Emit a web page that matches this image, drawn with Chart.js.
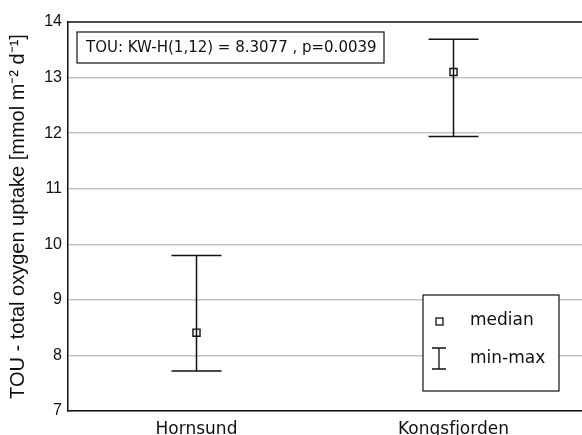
<!DOCTYPE html>
<html>
<head>
<meta charset="utf-8">
<script src="https://cdn.jsdelivr.net/npm/chart.js@4"></script>
<style>
  html, body { margin: 0; padding: 0; background: #fff; }
  #wrap { width: 582px; height: 435px; position: relative; }
</style>
</head>
<body>
<div id="wrap"><canvas id="c"></canvas></div>
<script>
const stations = ["Hornsund", "Kongsfjorden"];
const medians = [8.41, 13.1];
const mins = [7.72, 11.94];
const maxes = [9.8, 13.69];
const yTicks = [7, 8, 9, 10, 11, 12, 13, 14];
const statText = "TOU: KW-H(1,12) = 8.3077 , p=0.0039";

const FONT = "'DejaVu Sans', sans-serif";
const ARIAL = "'Liberation Sans', Arial, sans-serif";

// whiskers go under the median squares
const errorBars = {
  id: "errorBars",
  beforeDatasetsDraw(chart) {
    const { ctx, scales: { x, y } } = chart;
    ctx.save();
    ctx.strokeStyle = "#111";
    ctx.lineWidth = 1.5;
    stations.forEach((s, i) => {
      const px = x.getPixelForValue(i);
      const top = y.getPixelForValue(maxes[i]);
      const bot = y.getPixelForValue(mins[i]);
      ctx.beginPath();
      ctx.moveTo(px, top); ctx.lineTo(px, bot);
      ctx.moveTo(px - 25, top); ctx.lineTo(px + 25, top);
      ctx.moveTo(px - 25, bot); ctx.lineTo(px + 25, bot);
      ctx.stroke();
    });
    ctx.restore();
  }
};

// stats box, legend box and black top border
const boxes = {
  id: "boxes",
  afterDraw(chart) {
    const { ctx, chartArea: a } = chart;
    ctx.save();
    ctx.strokeStyle = "#111";
    ctx.lineWidth = 1.5;
    ctx.beginPath();
    ctx.moveTo(a.left, a.top); ctx.lineTo(a.right, a.top);
    ctx.stroke();

    ctx.lineWidth = 1.2;
    ctx.fillStyle = "#fff";
    ctx.fillRect(77, 32, 307, 31);
    ctx.strokeRect(77, 32, 307, 31);
    ctx.fillStyle = "#111";
    ctx.font = "15px " + FONT;
    ctx.textBaseline = "middle";
    ctx.fillText(statText, 86, 48);

    ctx.fillStyle = "#fff";
    ctx.fillRect(423, 295, 136, 96);
    ctx.strokeRect(423, 295, 136, 96);
    ctx.lineWidth = 1.3;
    ctx.strokeRect(436, 318, 7, 7);
    ctx.beginPath();
    ctx.moveTo(432, 348); ctx.lineTo(446, 348);
    ctx.moveTo(439, 348); ctx.lineTo(439, 369);
    ctx.moveTo(432, 369); ctx.lineTo(446, 369);
    ctx.stroke();
    ctx.fillStyle = "#111";
    ctx.font = "17px " + FONT;
    ctx.fillText("median", 470, 321);
    ctx.fillText("min-max", 470, 359);
    ctx.restore();
  }
};

new Chart(document.getElementById("c"), {
  type: "line",
  data: {
    labels: stations,
    datasets: [{
      label: "median",
      data: medians,
      showLine: false,
      pointStyle: "rect",
      pointRadius: 5,
      pointHoverRadius: 5,
      pointBorderWidth: 1.4,
      pointBorderColor: "#111",
      pointBackgroundColor: "rgba(0,0,0,0)"
    }]
  },
  options: {
    responsive: true,
    maintainAspectRatio: false,
    animation: false,
    layout: { autoPadding: false, padding: { top: 22, right: 0, left: 0, bottom: 0 } },
    plugins: { legend: { display: false }, tooltip: { enabled: false } },
    scales: {
      x: {
        offset: true,
        afterFit: s => { s.height = 24; s.paddingLeft = 0; s.paddingRight = 0; },
        grid: { display: false, drawTicks: false },
        border: { color: "#111", width: 1.5 },
        ticks: { color: "#111", padding: 8, font: { family: FONT, size: 17 } }
      },
      y: {
        min: 7, max: 14,
        afterFit: s => { s.width = 68; s.paddingTop = 0; s.paddingBottom = 0; },
        afterBuildTicks: s => { s.ticks = yTicks.map(v => ({ value: v })); },
        grid: {
          drawTicks: false,
          color: c => c.tick && c.tick.value === 14 ? "rgba(0,0,0,0)" : "#c4c4c4",
          lineWidth: 1.5
        },
        border: { color: "#111", width: 1.5 },
        ticks: { color: "#111", padding: 6, font: { family: ARIAL, size: 16 } },
        title: {
          display: true,
          text: "TOU - total oxygen uptake [mmol m\u207B\u00B2 d\u207B\u00B9]",
          color: "#111",
          padding: { top: 6 },
          font: { family: ARIAL, size: 20 }
        }
      }
    }
  },
  plugins: [errorBars, boxes]
});
</script>
</body>
</html>
